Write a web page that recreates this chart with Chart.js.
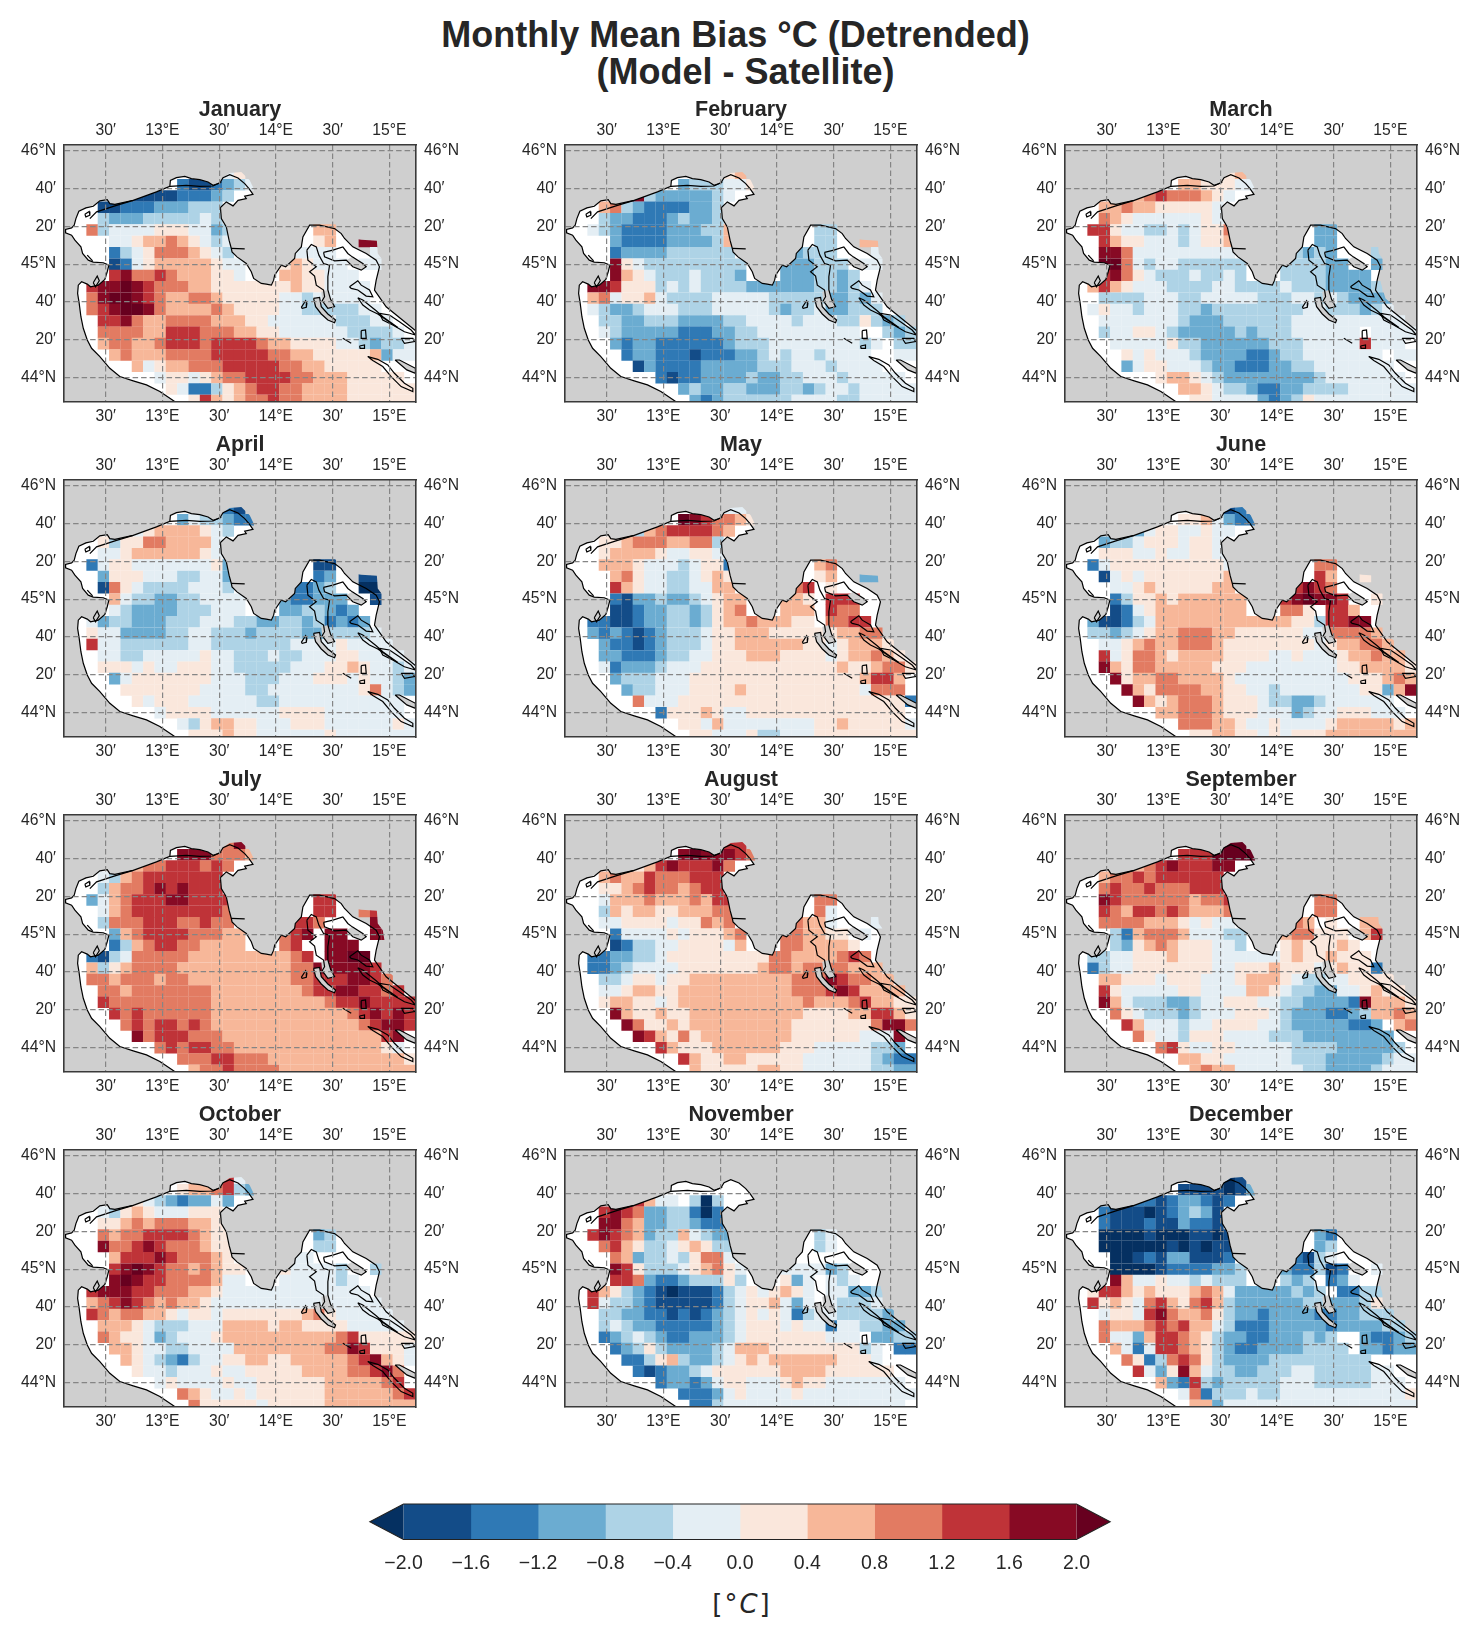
<!DOCTYPE html>
<html>
<head>
<meta charset="utf-8">
<title>Monthly Mean Bias</title>
<script src="https://cdn.jsdelivr.net/npm/chart.js@4"></script>
<style>
  html, body { margin: 0; padding: 0; background: #fff; }
  body { position: relative; width: 1480px; height: 1639px; overflow: hidden; font-family: "Liberation Sans", Arial, sans-serif; color: #262626; }
  canvas { position: absolute; }
  .heading { position: absolute; left: 0; width: 1471px; text-align: center; font-weight: bold; font-size: 36px; line-height: 37px; white-space: nowrap; }
  .unit { position: absolute; left: 640px; width: 204px; top: 1586px; text-align: center; font-family: "DejaVu Sans", sans-serif; font-size: 26px; line-height: 36px; letter-spacing: 2px; }
</style>
</head>
<body>
<div class="heading" style="top:16px">Monthly Mean Bias °C (Detrended)</div>
<div class="heading" style="top:53px;padding-left:20px;width:1451px">(Model - Satellite)</div>
<div class="unit">[°<i>C</i>]</div>
<script>
// Colour classes of the bias field (degrees C); the two outer colours are the open-ended extensions.
const binEdges = [-2, -1.6, -1.2, -0.8, -0.4, 0, 0.4, 0.8, 1.2, 1.6, 2];
const binColors = ['#134c88', '#2f79b5', '#6bacd1', '#aed3e6', '#e4eef4', '#fae7dc', '#f7b799', '#e27b62', '#bf3338', '#870a24'];
const underColor = '#053061';
const overColor = '#67001f';

// Letter codes used in the monthly rows, each one the mid value of its class.
const codeValues = { a: -2.2, b: -1.8, c: -1.4, d: -1.0, e: -0.6, f: -0.2, g: 0.2, h: 0.6, i: 1.0, j: 1.4, k: 1.8, l: 2.2 };

// Axis ticks
const lonTicks = [12.5, 13, 13.5, 14, 14.5, 15];
const lonLabels = ['30′', '13°E', '30′', '14°E', '30′', '15°E'];
const latTicks = [46, 45.6667, 45.3333, 45, 44.6667, 44.3333, 44];
const latLabels = ['46°N', '40′', '20′', '45°N', '40′', '20′', '44°N'];
const colorbarTicks = [-2, -1.6, -1.2, -0.8, -0.4, 0, 0.4, 0.8, 1.2, 1.6, 2];

// Monthly bias on a 0.1 degree grid: rows run north to south from 45.8N, columns west to east from 12.18E.
const january = [
"..............fg...............",
"..........cbbcdef..............",
"......bbbbcccde................",
"...bbcccdddeee.................",
"...edddeeeeefe.................",
"..ieffffgggffde.......hh.......",
"....ffghhihgfef.......gh..kk...",
"....cefgiiihgfe.....ffff...ff..",
"....bcfghhhhhgff...ghgfff.ff...",
"....jkiijihhhggf...hhggfff.....",
"..jkklkjiiihhggggggghggffff....",
"..ikllkjihhiihgggggffefffff....",
"..ijkllkihhhhihggggffeeeeeff...",
"...jjkihhiiiihhhggffffffeeeff..",
"...iiiihhjjjiiihhggffffffeeeef.",
"...hiihhijjjijjjjihhggggffedeef",
"....hihhhiiiijjjjjiihhggggghdff",
"......hfghhiiijjjjjiihhggggg...",
"........fggfghiijjjjiihhhggggg.",
".........gfcceghijjiihhhhgggggg",
"...........gjhghiijiihhhhgggggg"];
const february = [
"..............gh...............",
"..........deeeffg..............",
"......kedddddef................",
"...hiedccccdde.................",
"...eddcccdedde.................",
"..fedccccdddeeh.......ee.......",
"....dccccddddeh.......ee..hh...",
"....cddddeeeeee.....deee...f...",
"....kgfeeeeeeeee...dddeee.ff...",
"....khgfeeefeeed...dddeede.....",
"..kkjgggefefeeeeddddddeedef....",
"..hifgghfeeeefffffeeeeeddedf...",
"..feddefffeeefffffedeefddeee...",
"...eeddeeeddddeeffffefffeegede.",
"...fedddddcccddeefffffffff..ede",
"....dcddccccccdeeeffffffffef.ee",
".....cddcccbcccddefeffeffff..ff",
"......bdccccdddddeeefffeffff...",
"........cbccddddeddeefffefffff.",
"..........deddeedddeedeffefffff",
"...........dcdeeeeeeffffeefffff"];
const march = [
"..............gh...............",
"..........hhgggff..............",
"......hijiiihgf................",
"...hhihhgggggf.................",
"...ihgffffffgf.................",
"..jjgffeefefggi.......dd.......",
"...jhggfffefggh.......dd.......",
"...kkifffffffff.....eded...e...",
"...llifeffeeeeee...eeeedd..d...",
"...jkigfeeefeefe...eeeedddd....",
"..hjhgfffeeeeffeeeefeeedddde...",
"...eeeefffeefffffeeeffefedddde.",
"..fgffefffeedeeeeeeeeffeeedef..",
"...fffffffedddeeeeeeffffffffff.",
"...effggfedddddedeeeffffff.ffff",
"....fffffgeeddddddeeefffffjfff.",
".....gfgfffeddddccdeefffffff.ff",
".....dfggfffeddcccddeefffffff..",
"........ghhgfeddddddddefffffff.",
"..........hhgfeedccddeeeeffffff",
"...........ggffffdcdegfffffffff"];
const april = [
"..............cb...............",
"..........dfeedcc..............",
"......fghhhhgfe................",
"...geggiihhhhf.................",
"...ffghhhhhhgf.................",
"..cfggfffffffgd.......bb.......",
"...dgggfffeeffd.......cd..bb...",
"...bigfeeeefffe.....ccde..aa...",
"....hfeeddeeffff...dccddd..b...",
"....feddddeeefff...ddeedcd.....",
"..fdeedddeeefffeeddeedecdcd....",
"..gffddddeeffeeedeeeeddeeeef...",
"..jffeeeeeeffeeeeeeeffffgffff..",
"...ffeefffffgffeeefeefffggffff.",
"...gggfgffgggffeeeeefffgghgffef",
"....dfgggggggfffeeefffgggfgffed",
".....gggggggffffeeffffffffgifed",
"......gfgggffffffeefffffffffff.",
"........fggggffffffggggfffffff.",
"..........feghhggfffgggffffffgf",
"...........ggghggffffffgfffffff"];
const may = [
"..............ff...............",
"..........lkjiihg..............",
"......ehijjjjih................",
"...gghiiihhiie.................",
"...ghhhhgffggf.................",
"...hhhgfffefggc.......hi.......",
"....higffeefghg.......gh..dd...",
"....jhgffeeffhh.....ij.g.......",
"....cbddeddefghh...hhg.jjj...k.",
"....bbcddeedeghi...hhh.jii.....",
"..ccbbcddeedeghhihhhgg.iijj....",
"..dcdcbcdeeefgghhhgggggghhii...",
"...dccbcdeeefgghhhhhhggfghhhg..",
"...ddcccdeeffggghhhggggfghhihg.",
"...fcdddefffgggggggggggghgghiig",
"....deeefffggggggggggggggghjjh.",
".....deefffgggghggggggggggfiii",
"......ifffggggggggggggggggggggc",
"........cggghgffgggggggggggggg.",
"..........ggfhffffffffgghgggggf",
"...........ggfffgeefffggggggggg"];
const june = [
"..............bc...............",
"..........gghfdcc..............",
"......dfggffgff................",
"...deefgggfggf.................",
"...gggffgffggf.................",
"..cfggggggggggf.......ii.......",
"...bfgfggggggghh......jh..g....",
"....ffghggggghh.....jkji.......",
"....cegghghhhhhh...jklkkj..g...",
"....bcfghhhhhhhh...iig.jjh.....",
"..dbbcefhhhhhhhhhhhhggejjkk....",
"..eedefghhiiihhggggggffiiiih...",
"...ffghihhiiihggggggggfghhiih..",
"...jfgiihghhhhggggffgfffghhihh.",
"...khgiihhhhhgggffffffffgghhhhg",
"....kghhiihhhhgffffffffffggghih",
".....khgiiiihhggffefffffffggdhk",
"......khghiiihgggfeeddeffffff..",
"........hhiiihgggfffdeffgggfff.",
"..........iiihhgffgffffghhhhhgh",
"...........gghhggfgfggghhhhhhhh"];
const july = [
"..............ik...............",
"..........kkkiiih..............",
"......hiijjjiji................",
"...fehijjjjjjj.................",
"...ehiijkjkjjj.................",
"..dfhijjjkkjjjj.......jj.......",
"...fhijjjjjjjji.......jj..ij...",
"...eiiijjjiijii.....jji....k...",
"....dhijjjjiiihh...ijk.kk..kk..",
"....cehijjiihhhh...ij..kkk.....",
"..cbefiiiiihhhhhhhhhij.kkll....",
"..heghiiiihhhhhhhhhhiikkkkkj...",
"..iihiiihiihhhhhhhhhiijjjkkji..",
"...iihiiiiiiihhhhhhhhijjkkjjij.",
"...jiiiiiiiiihhhhhhhhhhijjkjjjj",
"....jijiiiiiihhhhhhhhhhhhijkjkj",
".....ijijjijihhhhhhhhhhhhhijkkj",
"......kijjjiiihhhhhhhhhhhhhhjk.",
"........ijijjiihhhhhhhhhhhhhgf.",
"..........iiijjiiihhhhhhhhhhhhg",
"...........hiijiiiihhhhhhhhhhhh"];
const august = [
"..............jj...............",
"..........klkkkji..............",
"......ghjkjjjki................",
"...hihhjiiijjj.................",
"...gghijiihijj.................",
"...fhhhihhhihjj.......ii.......",
"...ehghhgghhhii.......if.......",
"...ffggggfggihi.....ihhf...f...",
"....cffffgfggghi...iihhgg.f....",
"....bceeffggggfh...iihhhhg.....",
"..ccddeefgggggggggiihhhhiji....",
"..ccdeffffggggggghiihiiiihhh...",
"...eefggfgghhhhhhhhhiiikjiihh..",
"...ffghhgghhhhhhhhhhiiijkjhhhh.",
"...ghhggfghhhhhhhhhhhihhhijhhgg",
"....khgghgghhhhhhhhhhgggghhjjhg",
".....kigghghhhhhhhhhgggggggikki",
"......kjhgighhhhhhhhggggggfffk.",
"........jhggghhhhhhgggfffffeed.",
"..........jhgghhgggggffffffedcc",
"...........hggggghhggffffffeedd"];
const september = [
"..............ll...............",
"..........jjjllll..............",
"......hijkjjjkk................",
"...hiijijjjjjj.................",
"...ijiijiiijjj.................",
"...kjiiiiiihiij.......ii.......",
"...jihjjijihhhi.......ii.......",
"...iiiihhhgfgff.....ih.g..hh...",
"....echiiihfffee...hiiggg.hj...",
"....edghihgggffe...ghggghg.....",
"..eeffggghgggffffffghgghggg....",
"..ceffgggggggffggghgggfghggc...",
"...hhgggfgggfffghhhgfeeffgggg..",
"...jgfffffggffffhhgfeeddffghgg.",
"...khfeeeddeffgggffeeddddckhhhg",
"....igfeeedefffgggfedddccdehhih",
".....jhfffeffggggffedddddccd.hi",
"......igffegggffffeeedddddddd..",
"........ijgffggfffffeeeeddddde.",
"..........hhggffffffeeedddddeff",
"...........hihhffffffeeddddefff"];
const october = [
"..............jf...............",
"..........ghhijed..............",
"......gfedcddfd................",
"...feghgfffggg.................",
"...gghihiiihhg.................",
"...ihiijjjjihgg.......de.......",
"...kiijkjiiihgg.......ee.......",
"....hjjjkjiiihg.....ff.........",
"....jklkjiihihgg...gffffe..e...",
"....klkjjiiiihff...fffffef.....",
"..jkkkjjiiihhgfffffffffffff....",
"..hijkjihihhgfffffffffffffff...",
"..jihiihhgfggfggggggghigfffff..",
"...hhhgfeeefffhhhhghhggggfffff.",
"...ihggfdefffghhhhhhhhhhijggggg",
"....hhgffeeffffhhhhhhhhiikjgggf",
".....hgfedceffgghhgghhhhhijkhgf",
"......gffefffgffggggghhhhiijki.",
"........fgffffgffgggggghhhhhij.",
"..........ihgffgfgggggghhhhhhij",
"...........igggggfggggghhhhhhhh"];
const november = [
"...............................",
"...............................",
"......jhff.eae.................",
"...jkjiddeecac.................",
"...kkihddeedcc.................",
"..jkjihdeehfedd.......ef.......",
"...ijhgeefghgee.......ef.......",
"....ihdeefegiif................",
"....kjgeeefghigf...ffffde......",
"....jjidccdeeege...gdf.fef.....",
"..jhgedcbabbbcefgfghgf.ffdde...",
"..jfeedcbbbbbcefgghfdf.feeef...",
"...eeddccbcbcdefgfgfceffeeeed..",
"...efeddcccccdefgggfgffcffeedd.",
"...cdefedccdddefgggggggfff.ddee",
"....cdegeddddefhhhggggggggef.cc",
".....ccegheddefghghhhhhhgggf...",
"......cbcddefgggggghhhhgggggg..",
"........cddcdfggfffghggfffffff.",
"..........cccdfgffffgffffffffff",
"...........cceffffffffffffffff"];
const december = [
"..............ab...............",
"..........bbbbabd..............",
"......ccbcddcbc................",
"...cbbbabcdedb.................",
"...cbbbcbbdccb.................",
"...aaaabaaabbab.......dc.......",
"...aaaaaabababb.......de.......",
"....aabcbddbbbc.....cbef.......",
"....aaaabccccdde...dccebc..f...",
"....khffgffefeee...ede.cdf.....",
"..gjjhghggghihfdddddede.ccee...",
"..jghgfijhgijheddddddeedddeg...",
"...fggfjkihhigeddcddddccddeee..",
"...ihhhijijhhfecccdddddcddddee.",
"...iffdhjjihgeddccdddede..dccde",
"....hfcfjjihgedccddddeeee.ddcdd",
".....igceijigeddddeeeeeeeee....",
"......jfdgkhfeeddeeeffeeeeeff..",
"........hdcjedeeeeefffeeeeefff.",
"..........ficeeefeefffffffffffg",
"...........hhdfffffffffffffffff"];

const months = [
  ['January', january], ['February', february], ['March', march],
  ['April', april], ['May', may], ['June', june],
  ['July', july], ['August', august], ['September', september],
  ['October', october], ['November', november], ['December', december]
];

// Coastline, lon/lat pairs: Italian shore, lagoons and the Gulf of Trieste.
const coastWest = [[13.114,43.786],[12.977,43.878],[12.859,43.937],[12.742,43.972],[12.624,44.010],[12.536,44.083],[12.448,44.186],[12.375,44.259],[12.337,44.332],[12.302,44.435],[12.281,44.537],[12.266,44.654],[12.252,44.742],[12.258,44.815],[12.287,44.845],[12.337,44.824],[12.366,44.801],[12.434,44.815],[12.492,44.865],[12.513,44.933],[12.528,44.991],[12.478,45.012],[12.390,45.018],[12.346,45.035],[12.296,45.094],[12.281,45.152],[12.228,45.211],[12.199,45.255],[12.146,45.275],[12.146,45.305],[12.199,45.319],[12.222,45.343],[12.237,45.401],[12.263,45.466],[12.325,45.495],[12.390,45.510],[12.448,45.557],[12.513,45.568],[12.536,45.533],[12.581,45.527],[12.742,45.562],[12.947,45.636],[13.065,45.685],[13.070,45.738],[13.123,45.762],[13.197,45.773],[13.255,45.753],[13.329,45.744],[13.402,45.723],[13.446,45.694],[13.505,45.715],[13.534,45.762]];
const coastGulf = [[13.593,45.788],[13.666,45.759],[13.725,45.709],[13.763,45.665],[13.798,45.615]];
const cellsGulf = [[13.593,45.803],[13.695,45.811],[13.769,45.738],[13.804,45.665],[13.813,45.615]];
// Slovenian and Istrian shore down to the Kvarner head.
const coastIstria = [[13.725,45.598],[13.739,45.577],[13.666,45.562],[13.622,45.513],[13.563,45.548],[13.511,45.498],[13.519,45.401],[13.563,45.328],[13.587,45.211],[13.607,45.138],[13.613,45.108],[13.657,45.064],[13.739,45.006],[13.783,44.933],[13.804,44.874],[13.871,44.830],[13.915,44.824],[13.960,44.815],[13.980,44.859],[13.989,44.903],[14.048,44.991],[14.086,44.977],[14.165,45.050],[14.171,45.094],[14.224,45.152],[14.238,45.240]];
const coastKvarner = [[14.297,45.343],[14.385,45.343],[14.517,45.313],[14.576,45.269],[14.605,45.226],[14.678,45.152],[14.796,45.094],[14.884,45.035],[14.913,44.977],[14.884,44.859],[14.869,44.772],[14.972,44.625],[15.235,44.412]];
const cellsKvarner = [[14.297,45.364],[14.400,45.381],[14.517,45.357],[14.590,45.284],[14.678,45.226],[14.752,45.215],[14.890,45.206],[14.898,45.094],[14.942,45.035],[14.957,44.947],[14.913,44.845],[14.957,44.698],[15.235,44.464]];
const openSeaCorners = [[15.235,43.786]];

// Islands and short coastal features.
const cres = [[14.273,45.123],[14.312,45.173],[14.356,45.152],[14.379,45.079],[14.420,45.006],[14.473,44.991],[14.458,44.889],[14.458,44.772],[14.482,44.690],[14.517,44.625],[14.458,44.610],[14.408,44.678],[14.429,44.713],[14.420,44.772],[14.356,44.815],[14.341,44.895],[14.297,44.933],[14.356,44.977],[14.282,45.035]];
const cresLand = [[14.400,44.757],[14.458,44.772],[14.482,44.690],[14.517,44.625],[14.458,44.610],[14.408,44.678]];
const losinj = [[14.332,44.698],[14.385,44.707],[14.400,44.625],[14.458,44.561],[14.526,44.508],[14.517,44.484],[14.458,44.508],[14.400,44.561],[14.350,44.625]];
const krk = [[14.420,45.103],[14.502,45.123],[14.590,45.152],[14.634,45.094],[14.673,45.064],[14.766,45.006],[14.796,44.977],[14.752,44.947],[14.678,44.977],[14.620,45.035],[14.517,45.029],[14.429,45.064]];
const krkLand = [[14.673,45.064],[14.766,45.006],[14.796,44.977],[14.752,44.947],[14.678,44.977],[14.620,45.035]];
const rab = [[14.649,44.801],[14.722,44.854],[14.752,44.815],[14.825,44.772],[14.854,44.713],[14.796,44.719],[14.722,44.772],[14.664,44.786]];
const pag = [[14.722,44.704],[14.766,44.684],[14.884,44.590],[14.942,44.537],[15.075,44.443],[15.016,44.479],[14.898,44.561],[14.825,44.596],[14.766,44.640]];
const vir = [[14.913,44.566],[15.001,44.552],[15.089,44.493],[15.192,44.420],[15.230,44.376],[15.133,44.405],[15.030,44.464],[14.942,44.508]];
const ist = [[14.752,44.414],[14.790,44.420],[14.796,44.347],[14.758,44.347]];
const molat = [[14.737,44.279],[14.781,44.288],[14.781,44.259],[14.743,44.259]];
const unije = [[14.224,44.619],[14.262,44.678],[14.273,44.654],[14.268,44.619],[14.232,44.610]];
const dugiOtok = [[14.810,44.186],[14.898,44.162],[14.986,44.112],[15.045,44.039],[15.133,43.951],[15.207,43.907],[15.207,43.878],[15.104,43.922],[15.016,44.010],[14.942,44.098],[14.854,44.151]];
const ugljan = [[15.051,44.156],[15.089,44.156],[15.230,44.083],[15.230,44.039],[15.154,44.069]];
const pasman = [[15.104,44.347],[15.207,44.347],[15.221,44.318],[15.133,44.303]];
const poDelta = [[12.390,44.836],[12.425,44.895],[12.443,44.854],[12.410,44.801]];
const veniceIsle = [[12.316,45.439],[12.354,45.463],[12.360,45.431],[12.325,45.416]];
const closedFeatures = [cres, losinj, krk, rab, pag, vir, ist, molat, unije, dugiOtok, ugljan, pasman, poDelta, veniceIsle];
const landPatches = [cresLand, krkLand, losinj, ugljan];
const lidoBarrier = [[12.360,45.401],[12.419,45.460],[12.581,45.513],[12.742,45.562]];
const gradoBarrier = [[13.065,45.685],[13.211,45.694],[13.329,45.685],[13.446,45.688],[13.519,45.723]];
const istrianMole = [[13.607,45.138],[13.725,45.135]];
const silba = [[14.590,44.347],[14.664,44.303]];
const chioggiaSpit = [[12.337,45.079],[12.384,45.029]];
const openFeatures = [lidoBarrier, gradoBarrier, istrianMole, silba, chioggiaSpit];

const FONT = '"Liberation Sans", Arial, sans-serif';
const INK = '#262626';
const LAND = '#cfcfcf';
const LON_MIN = 12.132, LON_MAX = 15.235, LAT_MIN = 43.786, LAT_MAX = 46.05;

function colorFor(v) {
  if (v < binEdges[0]) return underColor;
  for (let i = 0; i < binColors.length; i++) if (v < binEdges[i + 1]) return binColors[i];
  return overColor;
}
const toPoints = ring => ring.map(([x, y]) => ({ x, y }));
const closeRing = ring => toPoints([...ring, ring[0]]);

const seaRing = [...coastWest, ...coastGulf, ...coastIstria, ...coastKvarner, ...openSeaCorners];
const cellRing = [...coastWest, ...cellsGulf, ...coastIstria, ...cellsKvarner, ...openSeaCorners];
const shoreLine = [...coastWest, ...coastGulf, ...coastIstria, ...coastKvarner];

function cellPoints(rows) {
  const pts = [];
  rows.forEach((row, r) => {
    for (let c = 0; c < 31; c++) {
      const v = codeValues[row[c]];
      if (v !== undefined) pts.push({ x: 12.18 + 0.1 * c, y: 45.8 - 0.1 * r, v });
    }
  });
  return pts;
}

// Plot background plus the clip that keeps cells inside the modelled sea.
const mapPlugin = {
  id: 'mapLayers',
  beforeDatasetsDraw(chart) {
    const { ctx, chartArea: a } = chart;
    ctx.save();
    ctx.fillStyle = LAND;
    ctx.fillRect(a.left, a.top, a.width, a.height);
    ctx.restore();
  },
  beforeDatasetDraw(chart, args) {
    if (chart.data.datasets[args.index].isCells) {
      const { ctx, scales } = chart;
      ctx.save();
      ctx.beginPath();
      cellRing.forEach(([lon, lat], i) => {
        const x = scales.x.getPixelForValue(lon), y = scales.y.getPixelForValue(lat);
        i ? ctx.lineTo(x, y) : ctx.moveTo(x, y);
      });
      ctx.closePath();
      ctx.clip();
    }
  },
  afterDatasetDraw(chart, args) {
    if (chart.data.datasets[args.index].isCells) chart.ctx.restore();
  }
};

function axisOptions(ticks, labels, extra) {
  const tick = extra.position === 'left' || extra.position === 'right';
  return Object.assign({
    type: 'linear',
    min: tick ? LAT_MIN : LON_MIN,
    max: tick ? LAT_MAX : LON_MAX,
    afterBuildTicks(scale) { scale.ticks = ticks.map(value => ({ value })); },
    afterFit(scale) { if (tick) scale.width = 60; else scale.height = extra.position === 'top' ? 22.1 : 30; },
    ticks: {
      autoSkip: false, maxRotation: 0, minRotation: 0, color: INK,
      padding: tick ? 8 : 5,
      font: { family: FONT, size: 15.7 },
      callback: (v, i) => labels[i]
    },
    border: { display: true, color: '#3a3a3a', width: 1.6, z: 2, dash: [5.5, 3] }
  }, extra);
}

function drawPanel(title, rows, index) {
  const col = index % 3, row = Math.floor(index / 3);
  const canvas = document.createElement('canvas');
  canvas.width = 472; canvas.height = 337;
  canvas.style.left = ([64, 565, 1065][col] - 60) + 'px';
  canvas.style.top = ([145, 480, 815, 1150][row] - 50) + 'px';
  document.body.appendChild(canvas);

  const shapes = { pointRadius: 0, pointHoverRadius: 0, showLine: true, tension: 0 };
  const datasets = [];
  // Draw order runs from the highest order value to the lowest.
  openFeatures.forEach(f => datasets.push({ ...shapes, order: 1, data: toPoints(f), borderColor: '#000', borderWidth: 1.2, fill: false }));
  closedFeatures.forEach(f => datasets.push({ ...shapes, order: 1, data: closeRing(f), borderColor: '#000', borderWidth: 1.2, fill: false }));
  datasets.push({ ...shapes, order: 1, data: toPoints(shoreLine), borderColor: '#000', borderWidth: 1.2, fill: false });
  landPatches.forEach(f => datasets.push({ ...shapes, order: 2, data: closeRing(f), borderWidth: 0, borderColor: 'transparent', backgroundColor: LAND, fill: 'shape' }));
  datasets.push({
    type: 'scatter', order: 3, isCells: true, data: cellPoints(rows),
    pointStyle: 'rect', pointRadius: 8.15, pointHoverRadius: 8.15, pointBorderWidth: 0, pointHitRadius: 0,
    pointBackgroundColor: ctx => colorFor(ctx.raw.v), showLine: false
  });
  datasets.push({ ...shapes, order: 4, data: toPoints(seaRing.concat([[12.98, 43.786]])), borderWidth: 0, borderColor: 'transparent', backgroundColor: '#ffffff', fill: 'shape' });

  new Chart(canvas, {
    type: 'scatter',
    data: { datasets },
    plugins: [mapPlugin],
    options: {
      responsive: false, animation: false, devicePixelRatio: 1,
      layout: { padding: 0 },
      events: [],
      plugins: {
        legend: { display: false }, tooltip: { enabled: false },
        title: { display: true, text: title, color: INK, padding: { top: 2, bottom: 0 }, font: { family: FONT, size: 21.5, weight: 'bold' } }
      },
      scales: {
        x: axisOptions(lonTicks, lonLabels, { position: 'bottom', grid: { display: true, drawTicks: false, color: '#858585', lineWidth: 1.2, z: 1 } }),
        y: axisOptions(latTicks, latLabels, { position: 'left', grid: { display: true, drawTicks: false, color: '#858585', lineWidth: 1.2, z: 1 } }),
        x2: axisOptions(lonTicks, lonLabels, { axis: 'x', position: 'top', grid: { display: false, drawTicks: false } }),
        y2: axisOptions(latTicks, latLabels, { axis: 'y', position: 'right', grid: { display: false, drawTicks: false } })
      }
    }
  });
}
months.forEach(([name, rows], i) => drawPanel(name, rows, i));

// Horizontal colour key with triangular ends for values beyond the range.
const keyPlugin = {
  id: 'keyEnds',
  afterDatasetsDraw(chart) {
    const { ctx, chartArea: a, scales: { x } } = chart;
    const midY = (a.top + a.bottom) / 2;
    const tipL = x.getPixelForValue(-2.2), tipR = x.getPixelForValue(2.2);
    ctx.save();
    ctx.fillStyle = underColor;
    ctx.beginPath(); ctx.moveTo(a.left, a.top); ctx.lineTo(tipL, midY); ctx.lineTo(a.left, a.bottom); ctx.closePath(); ctx.fill();
    ctx.fillStyle = overColor;
    ctx.beginPath(); ctx.moveTo(a.right, a.top); ctx.lineTo(tipR, midY); ctx.lineTo(a.right, a.bottom); ctx.closePath(); ctx.fill();
    ctx.strokeStyle = '#222'; ctx.lineWidth = 1.1;
    ctx.beginPath();
    ctx.moveTo(a.left, a.top); ctx.lineTo(a.right, a.top); ctx.lineTo(tipR, midY); ctx.lineTo(a.right, a.bottom);
    ctx.lineTo(a.left, a.bottom); ctx.lineTo(tipL, midY); ctx.closePath();
    ctx.stroke();
    ctx.restore();
  }
};
const keyCanvas = document.createElement('canvas');
keyCanvas.width = 780; keyCanvas.height = 90;
keyCanvas.style.left = '350px'; keyCanvas.style.top = '1495px';
document.body.appendChild(keyCanvas);
new Chart(keyCanvas, {
  type: 'bar',
  data: {
    labels: [''],
    datasets: binColors.map((color, i) => ({
      data: [[binEdges[i], binEdges[i + 1]]], backgroundColor: color, borderWidth: 0,
      barPercentage: 1, categoryPercentage: 1, grouped: false
    }))
  },
  plugins: [keyPlugin],
  options: {
    indexAxis: 'y', responsive: false, animation: false, devicePixelRatio: 1, events: [],
    layout: { padding: { left: 53.5, right: 53.5, top: 9, bottom: 0 } },
    plugins: { legend: { display: false }, tooltip: { enabled: false } },
    scales: {
      y: { display: false, stacked: false },
      x: {
        type: 'linear', min: -2, max: 2,
        afterBuildTicks(scale) { scale.ticks = colorbarTicks.map(value => ({ value })); },
        afterFit(scale) { scale.height = 45.5; },
        grid: { display: false, drawTicks: false },
        border: { display: false },
        ticks: {
          autoSkip: false, maxRotation: 0, color: INK, padding: 12,
          font: { family: FONT, size: 19.5 },
          callback: v => (v < 0 ? '−' : '') + Math.abs(v).toFixed(1)
        }
      }
    }
  }
});
</script>
</body>
</html>
